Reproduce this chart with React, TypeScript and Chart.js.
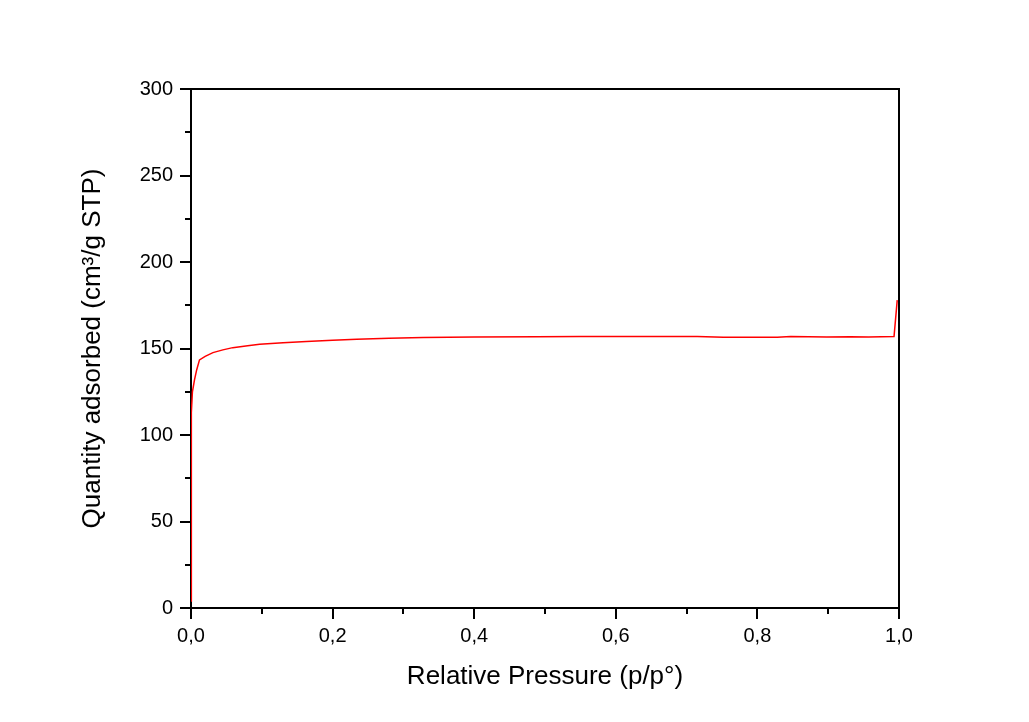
import React, { useEffect, useRef } from "react";
import { Chart, registerables } from "chart.js";

Chart.register(...registerables);

// Relative pressure p/p° (x) and quantity adsorbed (y)
const pressure = [
  0, 0.0005, 0.002, 0.005, 0.008, 0.012, 0.02, 0.031, 0.045, 0.059, 0.08, 0.097,
  0.13, 0.163, 0.2, 0.234, 0.28, 0.328, 0.4, 0.488, 0.55, 0.62, 0.715, 0.752,
  0.8, 0.828, 0.847, 0.898, 0.931, 0.957, 0.993, 0.9975,
];
const adsorbed = [
  4, 113, 125, 132, 137.6, 143.4, 145.5, 147.6, 149.2, 150.5, 151.6, 152.4,
  153.3, 154, 154.7, 155.3, 155.9, 156.3, 156.6, 156.8, 156.9, 157, 157, 156.5,
  156.5, 156.5, 157, 156.6, 156.8, 156.7, 157, 178,
];

const xMajorTicks = [0, 0.2, 0.4, 0.6, 0.8, 1.0];
const xTickLabels = ["0,0", "0,2", "0,4", "0,6", "0,8", "1,0"];
const xMinorTicks = [0.1, 0.3, 0.5, 0.7, 0.9];
const yMajorTicks = [0, 50, 100, 150, 200, 250, 300];
const yMinorTicks = [25, 75, 125, 175, 225, 275];

const xTitle = "Relative Pressure (p/p°)";
const yTitle = "Quantity adsorbed (cm³/g STP)";

const FONT = "'Liberation Sans', Arial, sans-serif";

const frameAndTicks = {
  id: "frameAndTicks",
  afterDraw(chart: any) {
    const { ctx, chartArea } = chart;
    const xs = chart.scales.x;
    const ys = chart.scales.y;
    ctx.save();
    ctx.strokeStyle = "#000";
    ctx.lineWidth = 2;
    ctx.beginPath();
    ctx.moveTo(chartArea.left, chartArea.top);
    ctx.lineTo(chartArea.right, chartArea.top);
    ctx.lineTo(chartArea.right, chartArea.bottom);
    ctx.stroke();
    const yt = (v: number, len: number) => {
      const py = Math.round(ys.getPixelForValue(v));
      ctx.beginPath();
      ctx.moveTo(chartArea.left - len, py);
      ctx.lineTo(chartArea.left, py);
      ctx.stroke();
    };
    const xt = (v: number, len: number) => {
      const px = Math.round(xs.getPixelForValue(v));
      ctx.beginPath();
      ctx.moveTo(px, chartArea.bottom);
      ctx.lineTo(px, chartArea.bottom + len);
      ctx.stroke();
    };
    yMajorTicks.forEach((v) => yt(v, 11));
    yMinorTicks.forEach((v) => yt(v, 6));
    xMajorTicks.forEach((v) => xt(v, 11));
    xMinorTicks.forEach((v) => xt(v, 6));
    ctx.restore();
  },
};

export default function App() {
  const ref = useRef<HTMLCanvasElement>(null);
  useEffect(() => {
    if (!ref.current) return;
    const chart = new Chart(ref.current, {
      type: "line",
      data: {
        datasets: [
          {
            data: pressure.map((p, i) => ({ x: p, y: adsorbed[i] })),
            borderColor: "#ff0000",
            borderWidth: 1.5,
            pointRadius: 0,
            tension: 0,
            fill: false,
          },
        ],
      },
      options: {
        animation: false,
        responsive: false,
        devicePixelRatio: 1,
        layout: { padding: { left: 0, right: 130, top: 89, bottom: 0 } },
        plugins: { legend: { display: false }, tooltip: { enabled: false } },
        scales: {
          x: {
            type: "linear",
            min: 0,
            max: 1,
            afterFit: (s: any) => {
              s.height = 114;
            },
            afterBuildTicks: (s: any) => {
              s.ticks = xMajorTicks.map((v) => ({ value: v }));
            },
            grid: { display: true, drawOnChartArea: false, drawTicks: false },
            border: { display: true, color: "#000", width: 2 },
            ticks: {
              color: "#000",
              padding: 16,
              font: { family: FONT, size: 20 },
              maxRotation: 0,
              callback: (v: any) => {
                const i = xMajorTicks.findIndex((t) => Math.abs(t - v) < 1e-6);
                return i >= 0 ? xTickLabels[i] : "";
              },
            },
            title: {
              display: true,
              text: xTitle,
              color: "#000",
              font: { family: FONT, size: 26 },
              padding: { top: 0, bottom: 30 },
            },
          },
          y: {
            type: "linear",
            min: 0,
            max: 300,
            afterFit: (s: any) => {
              s.width = 191;
            },
            afterBuildTicks: (s: any) => {
              s.ticks = yMajorTicks.map((v) => ({ value: v }));
            },
            grid: { display: true, drawOnChartArea: false, drawTicks: false },
            border: { display: true, color: "#000", width: 2 },
            ticks: {
              color: "#000",
              padding: 18,
              font: { family: FONT, size: 20 },
              callback: (v: any) => String(v),
            },
            title: {
              display: true,
              text: yTitle,
              color: "#000",
              font: { family: FONT, size: 26 },
              padding: { top: 77, bottom: 0 },
            },
          },
        },
      },
      plugins: [frameAndTicks],
    });
    return () => chart.destroy();
  }, []);
  return (
    <div style={{ position: "absolute", left: 0, top: 0, width: 1029, height: 722, background: "#fff" }}>
      <canvas ref={ref} width={1029} height={722} style={{ display: "block" }} />
    </div>
  );
}
